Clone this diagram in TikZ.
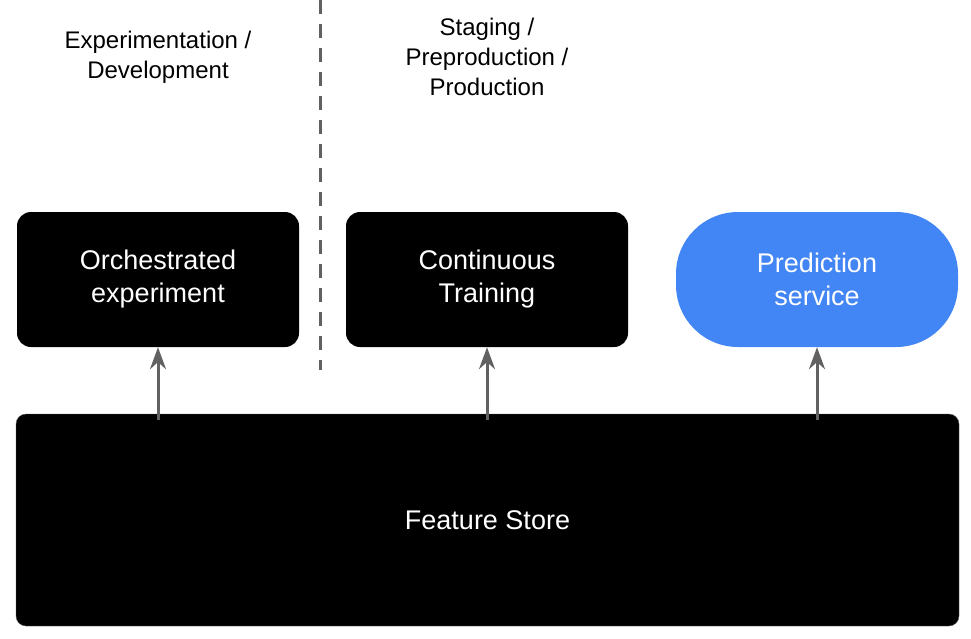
\documentclass[tikz,border=0pt]{standalone}
\usepackage{fontspec}
\setmainfont{Liberation Sans}
\usetikzlibrary{arrows.meta}
\definecolor{predblue}{HTML}{4285F4}
\definecolor{arrgray}{HTML}{616161}
\tikzset{
  stage/.style={fill=black, text=white, rounded corners=14pt, minimum width=282pt,
    minimum height=135pt, align=center, font=\fontsize{27}{33}\selectfont},
  heading/.style={align=center, font=\fontsize{24}{30}\selectfont},
  feed/.style={draw=arrgray, line width=3pt, -{Stealth[length=22pt,width=16pt]}}
}
\begin{document}
\begin{tikzpicture}[x=1pt,y=-1pt]
  \useasboundingbox (0,0) rectangle (971,638);

  \node[heading] (dev) at (158,57) {Experimentation /\\Development};
  \node[heading] (prod) at (487,57) {Staging /\\Preproduction /\\Production};
  \draw[arrgray, line width=3pt, dash pattern=on 14pt off 10pt] (320,0) -- (320,370);

  \node[stage] (orch) at (158,279.5) {Orchestrated\\experiment};
  \node[stage] (ct) at (487,279.5) {Continuous\\Training};
  \node[stage, fill=predblue, rounded corners=62pt] (pred) at (817,279.5) {Prediction\\service};

  \node[fill=black, draw=arrgray, rounded corners=10pt, minimum width=943pt, minimum height=212pt,
    text=white, font=\fontsize{27}{33}\selectfont] (fs) at (487.5,520) {Feature Store};

  \draw[feed] (fs.north -| orch) ++(0,6) -- (orch.south);
  \draw[feed] (fs.north -| ct) ++(0,6) -- (ct.south);
  \draw[feed] (fs.north -| pred) ++(0,6) -- (pred.south);
\end{tikzpicture}
\end{document}
